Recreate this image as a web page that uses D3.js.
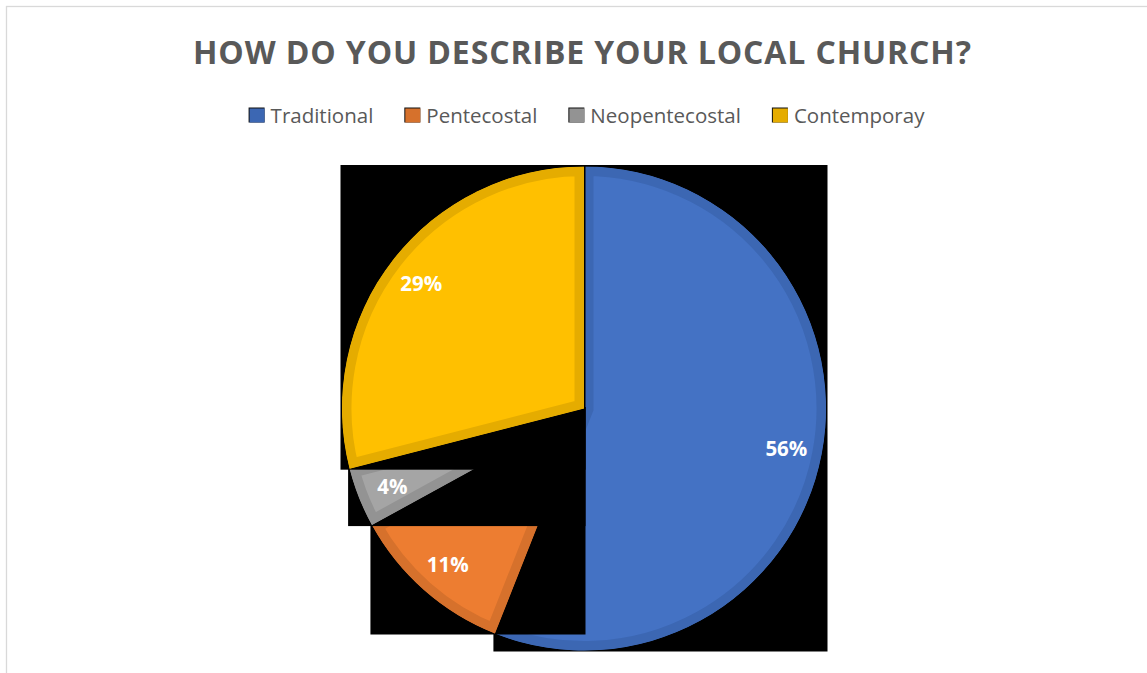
<!DOCTYPE html>
<html>
<head>
<meta charset="utf-8">
<script src="https://cdn.jsdelivr.net/npm/d3@7"></script>
<style>
  html, body { margin: 0; padding: 0; background: #fff; }
  svg { display: block; font-family: 'Open Sans', sans-serif; }
</style>
</head>
<body>
<div id="chart"></div>
<script>
// chart data
const title = 'HOW DO YOU DESCRIBE YOUR LOCAL CHURCH?';
const categories = ['Traditional', 'Pentecostal', 'Neopentecostal', 'Contemporay'];
const shares = [56, 11, 4, 29]; // percent

const width = 1147, height = 673;
const fillColor = d3.scaleOrdinal(categories, ['#4472c4', '#ed7d31', '#a5a5a5', '#ffc000']);
const edgeColor = d3.scaleOrdinal(categories, ['#3c67b3', '#d6712c', '#939393', '#e5ac00']);

const svg = d3.select('#chart').append('svg')
  .attr('width', width)
  .attr('height', height);

// chart area border (only top and left visible)
svg.append('rect')
  .attr('x', 6.5).attr('y', 6.5)
  .attr('width', width + 20).attr('height', height + 20)
  .attr('fill', '#fff')
  .attr('stroke', '#d9d9d9')
  .attr('stroke-width', 1.3);

svg.append('text')
  .attr('x', 582).attr('y', 63.5)
  .attr('text-anchor', 'middle')
  .attr('font-size', 32)
  .attr('font-weight', 700)
  .attr('fill', '#595959')
  .attr('textLength', 778)
  .attr('lengthAdjust', 'spacing')
  .text(title);

// legend
const legend = svg.append('g').attr('class', 'legend');
const items = legend.selectAll('g.item').data(categories).enter()
  .append('g').attr('class', 'item');
items.append('rect')
  .attr('x', -1).attr('y', -15)
  .attr('width', 16).attr('height', 15)
  .attr('fill', '#111');
items.append('rect')
  .attr('x', 0).attr('y', -14)
  .attr('width', 15).attr('height', 14)
  .attr('fill', d => edgeColor(d));
items.append('text')
  .attr('x', 21).attr('y', 0)
  .attr('font-size', 20.5)
  .attr('fill', '#595959')
  .text(d => d);
let offset = 0;
const itemX = [];
items.each(function() {
  itemX.push(offset);
  offset += 21 + d3.select(this).select('text').node().getComputedTextLength() + 32;
});
const legendW = offset - 32;
items.attr('transform', (d, i) => `translate(${587 - legendW / 2 + itemX[i]},122.5)`);

// pie
const cx = 584, cy = 408.5, radius = 242;
const pie = d3.pie().sort(null).value(d => d.value);
const arcs = pie(categories.map((c, i) => ({ name: c, value: shares[i] })));
const arc = d3.arc().innerRadius(0).outerRadius(radius);
const labelArc = d3.arc().innerRadius(206).outerRadius(206);

const defs = svg.append('defs');
const gPie = svg.append('g').attr('transform', `translate(${cx},${cy})`);

arcs.forEach((d, i) => {
  const g = gPie.append('g').attr('class', 'slice');
  const bg = g.append('rect').attr('fill', '#000');
  defs.append('clipPath').attr('id', `clip-${i}`)
    .append('path').attr('d', arc(d));
  const p = g.append('path')
    .attr('d', arc(d))
    .attr('fill', fillColor(d.data.name))
    .attr('stroke', edgeColor(d.data.name))
    .attr('stroke-width', 19)
    .attr('stroke-linejoin', 'miter')
    .attr('clip-path', `url(#clip-${i})`);
  // each slice sits on a black box of its own bounds
  const b = p.node().getBBox();
  bg.attr('x', b.x - 1.5).attr('y', b.y - 1.5)
    .attr('width', b.width + 3).attr('height', b.height + 2.5);
});

gPie.selectAll('text.pct').data(arcs).enter()
  .append('text')
  .attr('class', 'pct')
  .attr('transform', d => `translate(${labelArc.centroid(d)})`)
  .attr('dy', '0.45em')
  .attr('text-anchor', 'middle')
  .attr('font-size', 20.5)
  .attr('font-weight', 700)
  .attr('fill', '#fff')
  .text(d => d.data.value + '%');
</script>
</body>
</html>
